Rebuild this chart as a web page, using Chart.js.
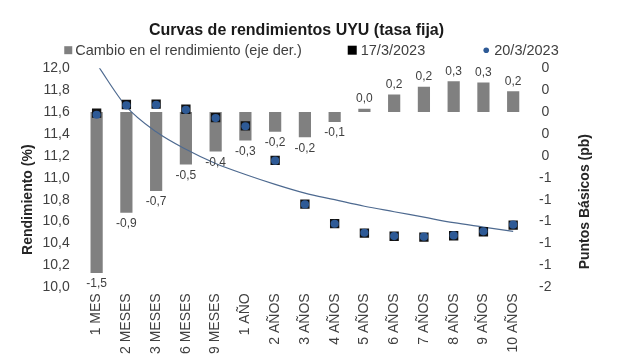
<!DOCTYPE html>
<html>
<head>
<meta charset="utf-8">
<script src="https://cdn.jsdelivr.net/npm/chart.js@4.4.1/dist/chart.umd.min.js"></script>
<style>
  html, body { margin: 0; padding: 0; background: #ffffff; }
  #wrap { width: 617px; height: 360px; }
</style>
</head>
<body>
<div id="wrap"><canvas id="c" width="617" height="360"></canvas></div>
<script>
// ---- Data ----
const categories = ['1 MES', '2 MESES', '3 MESES', '6 MESES', '9 MESES', '1 AÑO', '2 AÑOS', '3 AÑOS',
  '4 AÑOS', '5 AÑOS', '6 AÑOS', '7 AÑOS', '8 AÑOS', '9 AÑOS', '10 AÑOS'];

// Cambio en el rendimiento (puntos básicos, eje derecho)
const changeBp = [-1.47, -0.92, -0.72, -0.48, -0.36, -0.26, -0.18, -0.23, -0.09, 0.03, 0.16, 0.23, 0.28, 0.27, 0.19];

// Rendimiento (%) 17/3/2023
const yield17 = [11.590, 11.669, 11.672, 11.625, 11.549, 11.473, 11.158, 10.759, 10.581, 10.495, 10.466, 10.458, 10.471, 10.507, 10.568];

// Rendimiento (%) 20/3/2023
const yield20 = [11.575, 11.660, 11.665, 11.620, 11.545, 11.470, 11.156, 10.757, 10.580, 10.498, 10.468, 10.462, 10.474, 10.511, 10.572];

// Tendencia (línea del 20/3/2023)
const trend20 = [12.04, 11.65, 11.42, 11.26, 11.13, 11.03, 10.94, 10.86, 10.80, 10.74, 10.69, 10.64, 10.59, 10.55, 10.51];

// Ejes
const leftAxis = { min: 10.0, max: 12.0, step: 0.2 };
const rightAxis = { min: -1.6, max: 0.4, step: 0.2 };

const titleText = 'Curvas de rendimientos UYU (tasa fija)';
const leftTitle = 'Rendimiento (%)';
const rightTitle = 'Puntos Básicos (pb)';
const seriesNames = ['Cambio en el rendimiento (eje der.)', '17/3/2023', '20/3/2023'];

// ---- Styles ----
const FONT = "'Liberation Sans', Arial, sans-serif";
const TXT = '#404040';
const BAR = '#808080';
const BLUE = '#2E5A96';

const fmtComma1 = v => Number(v).toFixed(1).replace('.', ',');

// Custom legend + axis titles + bar value labels
const decor = {
  id: 'decor',
  afterDatasetsDraw(chart) {
    const ctx = chart.ctx;
    const meta = chart.getDatasetMeta(0);
    ctx.save();
    ctx.font = '12px ' + FONT;
    ctx.fillStyle = TXT;
    ctx.textAlign = 'center';
    ctx.textBaseline = 'middle';
    meta.data.forEach((el, i) => {
      const v = chart.data.datasets[0].data[i];
      const y = v < 0 ? el.y + 11 : el.y - 10;
      ctx.fillText(fmtComma1(v), el.x, y);
    });
    ctx.restore();
  },
  afterDraw(chart) {
    const ctx = chart.ctx;
    const ca = chart.chartArea;
    // axis titles
    const ty = ca.top + ca.height * 0.6;
    ctx.save();
    ctx.font = 'bold 14px ' + FONT;
    ctx.fillStyle = '#262626';
    ctx.textAlign = 'center';
    ctx.textBaseline = 'middle';
    ctx.translate(ca.left - 54, ty);
    ctx.rotate(-Math.PI / 2);
    ctx.fillText(chart.options.scales.y.title.text, 0, 0);
    ctx.restore();
    ctx.save();
    ctx.font = 'bold 14px ' + FONT;
    ctx.fillStyle = '#262626';
    ctx.textAlign = 'center';
    ctx.textBaseline = 'middle';
    ctx.translate(ca.right + 57, ty + 2);
    ctx.rotate(-Math.PI / 2);
    ctx.fillText(chart.options.scales.y2.title.text, 0, 0);
    ctx.restore();

    // legend
    const items = chart.data.datasets.filter(d => d.inLegend);
    ctx.save();
    ctx.font = '14.5px ' + FONT;
    ctx.textBaseline = 'middle';
    ctx.textAlign = 'left';
    const gaps = [46, 58];
    const markW = [8, 9, 6];
    const markGap = [3, 4, 5];
    const widths = items.map((d, i) => markW[i] + markGap[i] + ctx.measureText(d.label).width);
    const total = widths.reduce((a, b) => a + b, 0) + gaps.reduce((a, b) => a + b, 0);
    let x = chart.width / 2 + 3 - total / 2;
    const ly = ca.top - 18;
    items.forEach((d, i) => {
      if (d.legendMark === 'circle') {
        ctx.beginPath();
        ctx.fillStyle = d.legendColor;
        ctx.arc(x + markW[i] / 2, ly, 2.8, 0, Math.PI * 2);
        ctx.fill();
      } else {
        ctx.fillStyle = d.legendColor;
        ctx.fillRect(x, ly - markW[i] / 2, markW[i], markW[i]);
      }
      ctx.fillStyle = TXT;
      ctx.fillText(d.label, x + markW[i] + markGap[i], ly + 1);
      x += widths[i] + (gaps[i] || 0);
    });
    ctx.restore();
  }
};

new Chart(document.getElementById('c'), {
  data: {
    labels: categories,
    datasets: [
      {
        type: 'bar',
        label: seriesNames[0],
        data: changeBp,
        yAxisID: 'y2',
        backgroundColor: BAR,
        borderWidth: 0,
        barPercentage: 0.41,
        categoryPercentage: 1.0,
        order: 4,
        inLegend: true, legendMark: 'rect', legendColor: BAR
      },
      {
        type: 'line',
        label: 'Tendencia 20/3/2023',
        data: trend20,
        yAxisID: 'y',
        borderColor: '#4E6A90',
        borderWidth: 1.2,
        pointRadius: 0,
        fill: false,
        cubicInterpolationMode: 'monotone',
        order: 3
      },
      {
        type: 'line',
        label: seriesNames[1],
        data: yield17,
        yAxisID: 'y',
        showLine: false,
        pointStyle: 'rect',
        pointRadius: 6.6,
        pointBackgroundColor: '#111111',
        pointBorderWidth: 0,
        order: 2,
        inLegend: true, legendMark: 'rect', legendColor: '#000000'
      },
      {
        type: 'line',
        label: seriesNames[2],
        data: yield20,
        yAxisID: 'y',
        showLine: false,
        pointStyle: 'circle',
        pointRadius: 4.1,
        pointBackgroundColor: BLUE,
        pointBorderWidth: 0,
        order: 1,
        inLegend: true, legendMark: 'circle', legendColor: BLUE
      }
    ]
  },
  options: {
    responsive: false,
    animation: false,
    devicePixelRatio: 1,
    layout: { padding: { left: 30.5, right: 54.5, top: 0, bottom: 0 } },
    plugins: {
      legend: { display: false },
      tooltip: { enabled: false },
      title: {
        display: true,
        text: titleText,
        color: '#1a1a1a',
        font: { family: FONT, size: 16, weight: 'bold' },
        padding: { top: 21, bottom: 28 }
      }
    },
    scales: {
      x: {
        grid: { display: false, drawTicks: false },
        border: { display: false },
        ticks: {
          autoSkip: false,
          minRotation: 90,
          maxRotation: 90,
          padding: 6,
          color: TXT,
          font: { family: FONT, size: 14 }
        }
      },
      y: {
        position: 'left',
        min: leftAxis.min,
        max: leftAxis.max,
        title: { display: false, text: leftTitle },
        grid: { display: false, drawTicks: false },
        border: { display: false },
        ticks: {
          stepSize: leftAxis.step,
          padding: 12,
          color: TXT,
          font: { family: FONT, size: 14 },
          callback: v => fmtComma1(v)
        }
      },
      y2: {
        position: 'right',
        min: rightAxis.min,
        max: rightAxis.max,
        title: { display: false, text: rightTitle },
        grid: { display: false, drawTicks: false },
        border: { display: false },
        ticks: {
          stepSize: rightAxis.step,
          padding: 11,
          crossAlign: 'center',
          color: TXT,
          font: { family: FONT, size: 14 },
          callback: v => String(Math.round(v))
        }
      }
    }
  },
  plugins: [decor]
});
</script>
</body>
</html>
